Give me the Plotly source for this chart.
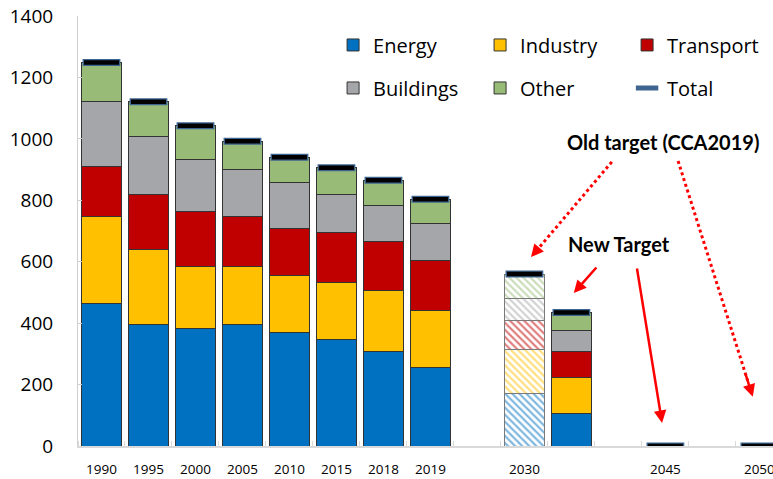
import plotly.graph_objects as go

# ---------------- data ----------------
x_pos = list(range(15))
tick_labels = ["1990", "1995", "2000", "2005", "2010", "2015", "2018", "2019",
               "", "2030", "", "", "2045", "", "2050"]

energy    = [465, 397, 384, 397, 371, 348, 309, 254, None, 172, 106, None, None, None, None]
industry  = [283, 243, 200, 189, 184, 185, 197, 186, None, 141, 116, None, None, None, None]
transport = [163, 180, 181, 160, 153, 162, 161, 163, None,  95,  86, None, None, None, None]
buildings = [210, 187, 167, 155, 149, 125, 117, 122, None,  71,  67, None, None, None, None]
other     = [128, 114, 111,  91,  83,  86,  81,  78, None,  81,  60, None, None, None, None]
total     = [1249, 1121, 1043, 992, 940, 906, 865, 803, None, 560, 435, None, 0, None, 0]

# the hatched ("old target", CCA2019) bar
hatched_index = 9

series = [
    ("Energy", energy, "#0070C0"),
    ("Industry", industry, "#FFC000"),
    ("Transport", transport, "#C00000"),
    ("Buildings", buildings, "#A5A6AA"),
    ("Other", other, "#98BB78"),
]

fig = go.Figure()

for name, vals, col in series:
    solid_vals = [None if i == hatched_index else v for i, v in enumerate(vals)]
    fig.add_trace(go.Bar(
        x=x_pos, y=solid_vals, name=name, width=0.85,
        legend="legend" if name in ("Energy", "Industry", "Transport") else "legend2",
        marker=dict(color=col, line=dict(color="#333333", width=1)),
        hoverinfo="skip",
    ))

for name, vals, col in series:
    fig.add_trace(go.Bar(
        x=[x_pos[hatched_index]], y=[vals[hatched_index]], name=name, width=0.85,
        showlegend=False,
        marker=dict(
            color="white",
            line=dict(color="#7a7a7a", width=1),
            pattern=dict(shape="\\", fgcolor=col, bgcolor="white",
                         fillmode="overlay", size=5, solidity=0.45),
        ),
        hoverinfo="skip",
    ))

# Total markers (outline + dark core)
fig.add_trace(go.Scatter(
    x=x_pos, y=total, mode="markers", name="Total", legend="legend2",
    marker=dict(symbol="line-ew", size=27, line=dict(color="#3E6490", width=7)),
    hoverinfo="skip",
))
fig.add_trace(go.Scatter(
    x=x_pos, y=total, mode="markers", name="Total", showlegend=False,
    marker=dict(symbol="line-ew", size=25, line=dict(color="#000000", width=4.5)),
    hoverinfo="skip",
))

# ---------------- annotations ----------------
red = "#FF0000"
# dotted arrows from "Old target"
dotted = [((10.86, 925), (9.14, 615)), ((12.27, 928), (13.86, 160))]
for (x0, y0), (x1, y1) in dotted:
    fig.add_shape(type="line", x0=x0, y0=y0, x1=x0 + (x1 - x0) * 0.93, y1=y0 + (y1 - y0) * 0.93,
                  line=dict(color=red, width=3, dash="dot"))
    fig.add_annotation(x=x1, y=y1, ax=x0 + (x1 - x0) * 0.9, ay=y0 + (y1 - y0) * 0.9,
                       axref="x", ayref="y", xref="x", yref="y", text="", showarrow=True,
                       arrowhead=2, arrowsize=1, arrowwidth=2.5, arrowcolor=red, standoff=0)
# solid arrows from "New Target"
solid = [((10.56, 586), (10.05, 498)), ((11.39, 583), (11.93, 75))]
for (x0, y0), (x1, y1) in solid:
    fig.add_annotation(x=x1, y=y1, ax=x0, ay=y0, axref="x", ayref="y", xref="x", yref="y",
                       text="", showarrow=True, arrowhead=2, arrowsize=1, arrowwidth=2.5,
                       arrowcolor=red, standoff=0)

fig.add_annotation(x=11.95, y=990, text="<b>Old target (CCA2019)</b>", showarrow=False,
                   font=dict(family="Lato", size=20, color="black"))
fig.add_annotation(x=11.01, y=658, text="<b>New Target</b>", showarrow=False,
                   font=dict(family="Lato", size=20, color="black"))

# ---------------- layout ----------------
fig.update_layout(
    width=773, height=479,
    margin=dict(l=78, r=0, t=16, b=33, autoexpand=False),
    barmode="stack",
    plot_bgcolor="white", paper_bgcolor="white",
    font=dict(family="Open Sans", color="black"),
    showlegend=True,
    legend=dict(orientation="h", x=0.367, y=0.978, xanchor="left", yanchor="top",
                entrywidth=102, entrywidthmode="pixels", font=dict(size=20),
                bgcolor="rgba(0,0,0,0)", traceorder="normal"),
    legend2=dict(orientation="h", x=0.367, y=0.878, xanchor="left", yanchor="top",
                 entrywidth=102, entrywidthmode="pixels", font=dict(size=20),
                 bgcolor="rgba(0,0,0,0)", traceorder="normal"),
    xaxis=dict(
        range=[-0.5, 14.29], tickmode="array", tickvals=x_pos, ticktext=tick_labels,
        ticks="", showgrid=False, zeroline=False, automargin=False,
        showline=True, linecolor="#D9D9D9", linewidth=1.5,
        tickfont=dict(size=13.5), ticklabelstandoff=10, ticklabeloverflow="allow",
        minor=dict(tick0=-0.5, dtick=1, ticks="inside", ticklen=5, tickcolor="#D9D9D9", showgrid=False),
    ),
    yaxis=dict(
        range=[0, 1400], tickmode="array", tickvals=[0, 200, 400, 600, 800, 1000, 1200, 1400],
        ticks="inside", ticklen=4, tickcolor="#D0D0D0", showgrid=False, zeroline=False,
        showline=True, linecolor="#D0D0D0", linewidth=1, automargin=False,
        tickfont=dict(size=19), ticklabelstandoff=20, ticklabeloverflow="allow",
    ),
)

# remove the default 8px page margin so the figure fills the window exactly
fig.write_html("out.html", config={"displayModeBar": False},
               post_script="document.body.style.margin='0px';")
